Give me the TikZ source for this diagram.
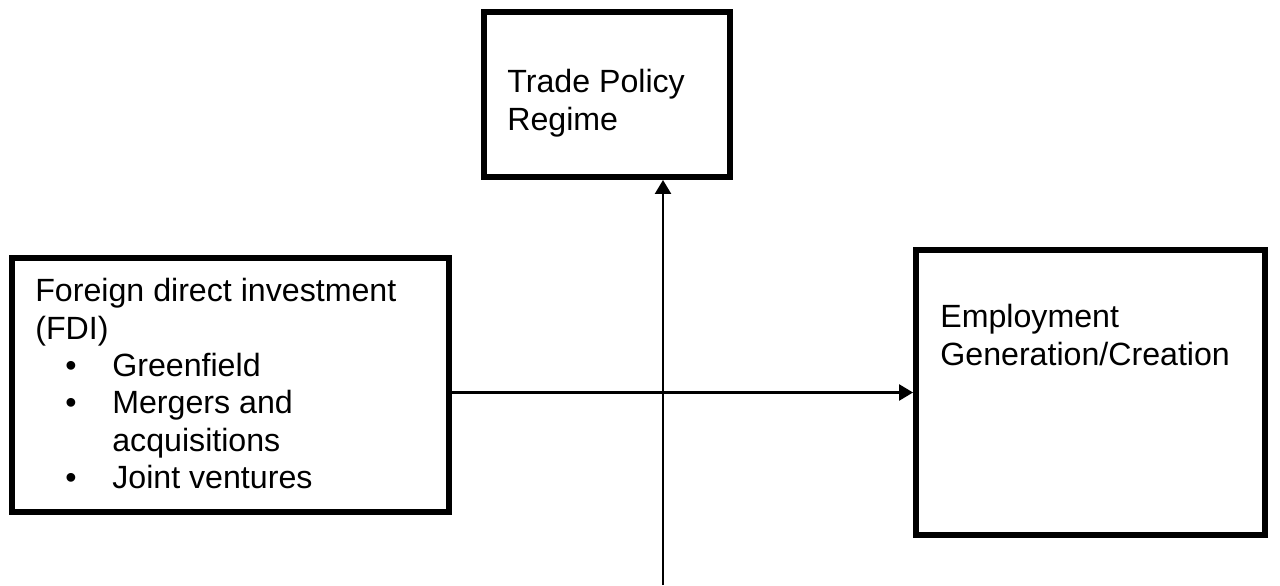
\documentclass[tikz,border=0pt]{standalone}
\usepackage{fontspec}
\setmainfont{Liberation Sans}
\usetikzlibrary{arrows.meta, positioning}

\begin{document}
\begin{tikzpicture}[x=0.02cm, y=-0.02cm, font=\fontsize{18.3}{21.3}\selectfont]

        % Setup the styles for the boxes, the texts and the arrows
        \tikzset{box style/.style={draw, rectangle,
                                   line width=3.4pt,
                                   inner sep=0pt},
                 text style/.style={anchor=north west,
                                    align=left,
                                    inner sep=0pt},
                 link style/.style={line width=1.4pt,
                                    -{Triangle[length=0.28cm, width=0.32cm]}}}

        \useasboundingbox (0, 0) rectangle (1280, 585);

        % Draw the boxes
        \node[box style, minimum width=4.92cm, minimum height=3.3cm]
                                at (607, 94.5)     (trade)  {};
        \node[box style, minimum width=8.74cm, minimum height=5.08cm]
                                at (230.5, 385)    (fdi)    {};
        \node[box style, minimum width=6.98cm, minimum height=5.7cm]
                                at (1090.5, 392.5) (emp)    {};

        % Write the texts inside the boxes
        \node[text style] at (507, 69)  (tradetext) {Trade Policy\\Regime};
        \node[text style] at (35, 278)  (fditext)
            {Foreign direct investment\\(FDI)\\
             \makebox[1.54cm][l]{\hspace*{0.6cm}•}Greenfield\\
             \makebox[1.54cm][l]{\hspace*{0.6cm}•}Mergers and\\
             \hspace*{1.54cm}acquisitions\\
             \makebox[1.54cm][l]{\hspace*{0.6cm}•}Joint ventures};
        \node[text style] at (940, 304) (emptext)
            {Employment\\Generation/Creation};

        % Connect the boxes with arrows
        \coordinate (foot) at (663, 585);
        \draw[link style] (fdi.east |- emp.west) -- (emp.west);
        \draw[link style] (foot) -- (foot |- trade.south);
\end{tikzpicture}
\end{document}
